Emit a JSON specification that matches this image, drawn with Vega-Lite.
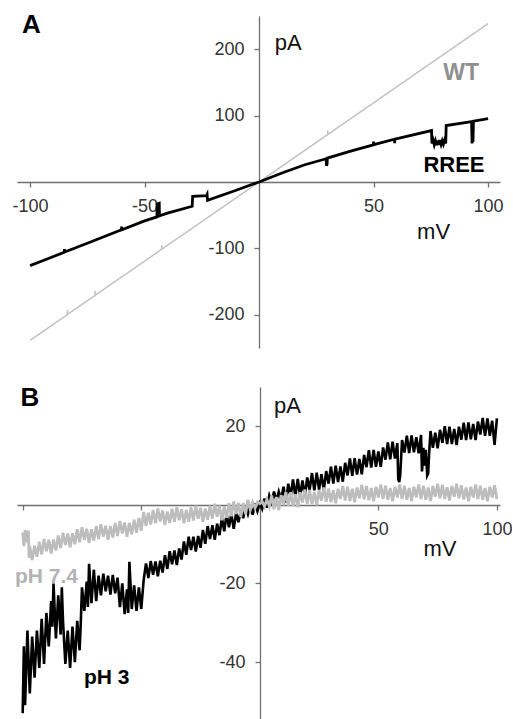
{
"$schema": "https://vega.github.io/schema/vega-lite/v6.json",
"padding": {"left": 12, "top": 12, "right": 0, "bottom": 0},
"background": "white",
"spacing": 36,
"config": {
  "view": {"stroke": null},
  "font": "Liberation Sans",
  "axis": {"grid": false, "title": null, "domainColor": "#707070", "domainWidth": 1.3, "tickColor": "#707070", "tickWidth": 1.3, "tickSize": 5, "labelFont": "Liberation Sans", "labelFontSize": 18, "labelColor": "#333333", "labelPadding": 10}
},
"datasets": {
  "one": [{"n": 1}],
  "wt": [{"mV":-100,"pA":-238.5},{"mV":-83.7,"pA":-199.6},{"mV":-83.6,"pA":-193},{"mV":-83.5,"pA":-199.1},{"mV":-71.7,"pA":-171},{"mV":-71.6,"pA":-164},{"mV":-71.5,"pA":-170.5},{"mV":-42.6,"pA":-101.6},{"mV":-42.5,"pA":-95},{"mV":-42.4,"pA":-101.1},{"mV":29.9,"pA":71.3},{"mV":30,"pA":78},{"mV":30.1,"pA":71.8},{"mV":100,"pA":238.5}],
  "rree": [{"mV":-100,"pA":-126},{"mV":-92,"pA":-115.2},{"mV":-85.1,"pA":-105.9},{"mV":-85,"pA":-101},{"mV":-84.9,"pA":-105.6},{"mV":-75,"pA":-92.3},{"mV":-60.1,"pA":-72.1},{"mV":-60,"pA":-67},{"mV":-59.9,"pA":-71.9},{"mV":-50,"pA":-58.5},{"mV":-44.6,"pA":-52.5},{"mV":-44.5,"pA":-33},{"mV":-43.6,"pA":-32},{"mV":-43.5,"pA":-51},{"mV":-40,"pA":-47},{"mV":-29.2,"pA":-36.5},{"mV":-29,"pA":-21.5},{"mV":-23,"pA":-20.5},{"mV":-22.7,"pA":-18.5},{"mV":-22.5,"pA":-27.5},{"mV":-10,"pA":-12.5},{"mV":0,"pA":0},{"mV":10,"pA":13.5},{"mV":20,"pA":26},{"mV":29.3,"pA":35},{"mV":29.4,"pA":24.5},{"mV":29.7,"pA":27},{"mV":29.8,"pA":36},{"mV":40,"pA":46.5},{"mV":49.9,"pA":56},{"mV":50,"pA":61},{"mV":50.1,"pA":56.2},{"mV":59.1,"pA":64.5},{"mV":59.2,"pA":58.5},{"mV":59.3,"pA":64.7},{"mV":75.3,"pA":77.5},{"mV":75.5,"pA":58},{"mV":76,"pA":63},{"mV":76.5,"pA":56},{"mV":77,"pA":62},{"mV":77.5,"pA":55.5},{"mV":78,"pA":62.5},{"mV":78.5,"pA":56},{"mV":79,"pA":63},{"mV":79.5,"pA":56.5},{"mV":80,"pA":62},{"mV":80.5,"pA":57},{"mV":81,"pA":63},{"mV":81.5,"pA":58},{"mV":81.7,"pA":85},{"mV":90,"pA":89.5},{"mV":92.8,"pA":91},{"mV":93,"pA":58},{"mV":93.2,"pA":70},{"mV":93.4,"pA":60},{"mV":93.6,"pA":91.5},{"mV":100,"pA":95.5}],
  "ph3": [{"mV":-100,"pA":-53},{"mV":-99.5,"pA":-36},{"mV":-99,"pA":-51},{"mV":-98,"pA":-32},{"mV":-97,"pA":-48},{"mV":-96,"pA":-33.5},{"mV":-95,"pA":-44},{"mV":-94,"pA":-32},{"mV":-93,"pA":-41.5},{"mV":-92,"pA":-29},{"mV":-91,"pA":-40.5},{"mV":-90,"pA":-27.5},{"mV":-89,"pA":-36},{"mV":-88,"pA":-24.5},{"mV":-87.5,"pA":-31},{"mV":-87,"pA":-20},{"mV":-86,"pA":-34},{"mV":-85,"pA":-23},{"mV":-84,"pA":-33},{"mV":-83.5,"pA":-21},{"mV":-83,"pA":-29.5},{"mV":-82,"pA":-40.5},{"mV":-81,"pA":-32},{"mV":-80,"pA":-41.5},{"mV":-79,"pA":-31},{"mV":-78,"pA":-40},{"mV":-77,"pA":-29.5},{"mV":-76,"pA":-37},{"mV":-75.5,"pA":-30},{"mV":-75,"pA":-21},{"mV":-74,"pA":-27},{"mV":-73,"pA":-19.5},{"mV":-72.5,"pA":-26},{"mV":-72,"pA":-15},{"mV":-71,"pA":-25},{"mV":-70,"pA":-16.5},{"mV":-69,"pA":-24.5},{"mV":-68,"pA":-18},{"mV":-67,"pA":-23},{"mV":-66,"pA":-17.5},{"mV":-65,"pA":-22},{"mV":-64,"pA":-18},{"mV":-63,"pA":-22.8},{"mV":-62,"pA":-17.8},{"mV":-61,"pA":-22.5},{"mV":-60,"pA":-18.5},{"mV":-59,"pA":-26},{"mV":-58,"pA":-20},{"mV":-57,"pA":-27.8},{"mV":-56,"pA":-21.5},{"mV":-55.5,"pA":-27.5},{"mV":-55,"pA":-14.5},{"mV":-54,"pA":-26.5},{"mV":-53,"pA":-20.5},{"mV":-52,"pA":-27},{"mV":-51,"pA":-21},{"mV":-50,"pA":-26.5},{"mV":-49,"pA":-19.2},{"mV":-48,"pA":-14.9},{"mV":-47,"pA":-18.6},{"mV":-46,"pA":-14.3},{"mV":-45,"pA":-17.8},{"mV":-44,"pA":-14.4},{"mV":-43,"pA":-18.2},{"mV":-42,"pA":-14.2},{"mV":-41,"pA":-17.2},{"mV":-40,"pA":-12.8},{"mV":-39,"pA":-16.3},{"mV":-38,"pA":-11.8},{"mV":-37,"pA":-15.1},{"mV":-36,"pA":-11.6},{"mV":-35,"pA":-15.3},{"mV":-34,"pA":-11.1},{"mV":-33,"pA":-13.9},{"mV":-32,"pA":-9.3},{"mV":-31,"pA":-12.7},{"mV":-30,"pA":-8.1},{"mV":-29,"pA":-11.5},{"mV":-28,"pA":-8.1},{"mV":-27,"pA":-11.9},{"mV":-26,"pA":-7.9},{"mV":-25,"pA":-10.9},{"mV":-24,"pA":-6.4},{"mV":-23,"pA":-9.9},{"mV":-22,"pA":-5.4},{"mV":-21,"pA":-8.7},{"mV":-20,"pA":-5.2},{"mV":-19,"pA":-8.9},{"mV":-18,"pA":-4.8},{"mV":-17,"pA":-7.7},{"mV":-16,"pA":-3.2},{"mV":-15,"pA":-6.7},{"mV":-14,"pA":-2.3},{"mV":-13,"pA":-5.7},{"mV":-12,"pA":-2.3},{"mV":-11,"pA":-6.1},{"mV":-10,"pA":-2.1},{"mV":-9,"pA":-4.4},{"mV":-8,"pA":-1.3},{"mV":-7,"pA":-3.4},{"mV":-6,"pA":-0.3},{"mV":-5,"pA":-2.3},{"mV":-4,"pA":0},{"mV":-3,"pA":-2.5},{"mV":-2,"pA":0.4},{"mV":-1,"pA":-1.6},{"mV":0,"pA":0.4},{"mV":1,"pA":-1},{"mV":2,"pA":1.6},{"mV":3,"pA":-0.7},{"mV":4,"pA":2.4},{"mV":5,"pA":0.7},{"mV":6,"pA":3.4},{"mV":7,"pA":1},{"mV":8,"pA":3.4},{"mV":9,"pA":1.4},{"mV":10,"pA":4.6},{"mV":11,"pA":0.6},{"mV":12,"pA":5.4},{"mV":13,"pA":2.2},{"mV":14,"pA":6.5},{"mV":15,"pA":2.1},{"mV":16,"pA":6.6},{"mV":17,"pA":2.3},{"mV":18,"pA":6.2},{"mV":19,"pA":2.2},{"mV":20,"pA":7},{"mV":21,"pA":3.8},{"mV":22,"pA":8.1},{"mV":23,"pA":3.7},{"mV":24,"pA":8.2},{"mV":25,"pA":3.9},{"mV":26,"pA":7.8},{"mV":27,"pA":3.8},{"mV":28,"pA":8.6},{"mV":29,"pA":5.4},{"mV":30,"pA":9.7},{"mV":31,"pA":5.4},{"mV":32,"pA":10},{"mV":33,"pA":5.8},{"mV":34,"pA":9.8},{"mV":35,"pA":5.9},{"mV":36,"pA":10.7},{"mV":37,"pA":7.5},{"mV":38,"pA":11.8},{"mV":39,"pA":7.4},{"mV":40,"pA":11.9},{"mV":41,"pA":7.7},{"mV":42,"pA":11.7},{"mV":43,"pA":7.8},{"mV":44,"pA":12.7},{"mV":45,"pA":9.6},{"mV":46,"pA":13.9},{"mV":47,"pA":9.5},{"mV":48,"pA":14},{"mV":49,"pA":9.7},{"mV":50,"pA":13.6},{"mV":51,"pA":9.7},{"mV":52,"pA":14.6},{"mV":53,"pA":11.5},{"mV":54,"pA":15.9},{"mV":55,"pA":11.6},{"mV":56,"pA":16.1},{"mV":57,"pA":11.8},{"mV":58,"pA":15.7},{"mV":58.4,"pA":6.5},{"mV":58.8,"pA":5.8},{"mV":59.2,"pA":7.5},{"mV":59.6,"pA":12},{"mV":60,"pA":16.5},{"mV":61,"pA":13.3},{"mV":62,"pA":17.6},{"mV":63,"pA":13.2},{"mV":64,"pA":17.7},{"mV":65,"pA":13.4},{"mV":66,"pA":17.2},{"mV":67,"pA":13.1},{"mV":68,"pA":17.8},{"mV":68.4,"pA":8.5},{"mV":68.8,"pA":12},{"mV":69,"pA":14.5},{"mV":69.5,"pA":10},{"mV":70,"pA":14},{"mV":70.6,"pA":7.5},{"mV":71,"pA":8},{"mV":71.4,"pA":13},{"mV":72,"pA":18.8},{"mV":73,"pA":14.5},{"mV":74,"pA":18.4},{"mV":75,"pA":14.4},{"mV":76,"pA":19.1},{"mV":77,"pA":15.8},{"mV":78,"pA":20},{"mV":79,"pA":15.5},{"mV":80,"pA":19.9},{"mV":81,"pA":15.5},{"mV":82,"pA":19.3},{"mV":83,"pA":15.2},{"mV":84,"pA":19.9},{"mV":85,"pA":16.6},{"mV":86,"pA":20.9},{"mV":87,"pA":16.5},{"mV":88,"pA":21},{"mV":89,"pA":16.7},{"mV":90,"pA":20.6},{"mV":91,"pA":16.5},{"mV":92,"pA":21.2},{"mV":93,"pA":17.9},{"mV":94,"pA":22.1},{"mV":95,"pA":17.6},{"mV":96,"pA":22},{"mV":97,"pA":17.6},{"mV":98,"pA":21.4},{"mV":99,"pA":15.3},{"mV":100,"pA":22}],
  "ph74": [{"mV":-100,"pA":-7},{"mV":-99.5,"pA":-10.5},{"mV":-99,"pA":-6.4},{"mV":-98,"pA":-9.6},{"mV":-97.6,"pA":-6.5},{"mV":-97.3,"pA":-13.5},{"mV":-97,"pA":-10.5},{"mV":-96,"pA":-14},{"mV":-95,"pA":-10.4},{"mV":-94,"pA":-13.2},{"mV":-93,"pA":-9.4},{"mV":-92,"pA":-12.6},{"mV":-91,"pA":-8.7},{"mV":-90,"pA":-11.8},{"mV":-89,"pA":-8.9},{"mV":-88,"pA":-12.4},{"mV":-87,"pA":-8.8},{"mV":-86,"pA":-11.6},{"mV":-85,"pA":-7.8},{"mV":-84,"pA":-11},{"mV":-83,"pA":-7.1},{"mV":-82,"pA":-10.2},{"mV":-81,"pA":-7.3},{"mV":-80,"pA":-10.8},{"mV":-79,"pA":-7.2},{"mV":-78,"pA":-10},{"mV":-77,"pA":-6.2},{"mV":-76,"pA":-9.5},{"mV":-75,"pA":-5.7},{"mV":-74,"pA":-8.9},{"mV":-73,"pA":-6.1},{"mV":-72,"pA":-9.7},{"mV":-71,"pA":-6.2},{"mV":-70,"pA":-9.1},{"mV":-69,"pA":-5.4},{"mV":-68,"pA":-8.7},{"mV":-67,"pA":-4.9},{"mV":-66,"pA":-8.1},{"mV":-65,"pA":-5.3},{"mV":-64,"pA":-8.9},{"mV":-63,"pA":-5.4},{"mV":-62,"pA":-8.3},{"mV":-61,"pA":-4.6},{"mV":-60,"pA":-7.9},{"mV":-59,"pA":-4.1},{"mV":-58,"pA":-7.3},{"mV":-57,"pA":-4.5},{"mV":-56,"pA":-8.1},{"mV":-55,"pA":-4.6},{"mV":-54,"pA":-7.5},{"mV":-53,"pA":-3.8},{"mV":-52,"pA":-7.1},{"mV":-51,"pA":-3.3},{"mV":-50,"pA":-6.6},{"mV":-49,"pA":-1.8},{"mV":-48,"pA":-5.4},{"mV":-47,"pA":-2},{"mV":-46,"pA":-5},{"mV":-45,"pA":-1.3},{"mV":-44,"pA":-4.7},{"mV":-43,"pA":-0.9},{"mV":-42,"pA":-4.2},{"mV":-41,"pA":-1.4},{"mV":-40,"pA":-5.1},{"mV":-39,"pA":-1.7},{"mV":-38,"pA":-4.6},{"mV":-37,"pA":-1},{"mV":-36,"pA":-4.3},{"mV":-35,"pA":-0.6},{"mV":-34,"pA":-3.9},{"mV":-33,"pA":-1.1},{"mV":-32,"pA":-4.7},{"mV":-31,"pA":-1.3},{"mV":-30,"pA":-4.3},{"mV":-29,"pA":-0.6},{"mV":-28,"pA":-4},{"mV":-27,"pA":-0.2},{"mV":-26,"pA":-3.5},{"mV":-25,"pA":-0.7},{"mV":-24,"pA":-4.3},{"mV":-23,"pA":-0.9},{"mV":-22,"pA":-3.8},{"mV":-21,"pA":-0.2},{"mV":-20,"pA":-3.5},{"mV":-19,"pA":0.3},{"mV":-18,"pA":-3},{"mV":-17,"pA":-0.2},{"mV":-16,"pA":-3.9},{"mV":-15,"pA":-0.4},{"mV":-14,"pA":-3.3},{"mV":-13,"pA":0.4},{"mV":-12,"pA":-2.9},{"mV":-11,"pA":0.9},{"mV":-10,"pA":-2.3},{"mV":-9,"pA":0.5},{"mV":-8,"pA":-3.1},{"mV":-7,"pA":0.5},{"mV":-6,"pA":-2.4},{"mV":-5,"pA":1.3},{"mV":-4,"pA":-1.3},{"mV":-3,"pA":0.7},{"mV":-2,"pA":-0.8},{"mV":-1,"pA":0.7},{"mV":0,"pA":0.3},{"mV":1,"pA":0.9},{"mV":2,"pA":-0.4},{"mV":3,"pA":1.4},{"mV":4,"pA":-0.4},{"mV":5,"pA":2.4},{"mV":6,"pA":-1.1},{"mV":7,"pA":2},{"mV":8,"pA":-1.3},{"mV":9,"pA":2.5},{"mV":10,"pA":-0.1},{"mV":11,"pA":3.3},{"mV":12,"pA":-0.3},{"mV":13,"pA":3.2},{"mV":14,"pA":-0.3},{"mV":15,"pA":2.7},{"mV":16,"pA":-0.6},{"mV":17,"pA":3.2},{"mV":18,"pA":0.6},{"mV":19,"pA":3.9},{"mV":20,"pA":0.3},{"mV":21,"pA":3.8},{"mV":22,"pA":0.2},{"mV":23,"pA":3.3},{"mV":24,"pA":-0.1},{"mV":25,"pA":3.7},{"mV":26,"pA":1.1},{"mV":27,"pA":4.4},{"mV":28,"pA":0.8},{"mV":29,"pA":4.2},{"mV":30,"pA":0.7},{"mV":31,"pA":3.7},{"mV":32,"pA":0.4},{"mV":33,"pA":4.1},{"mV":34,"pA":1.5},{"mV":35,"pA":4.8},{"mV":36,"pA":1.1},{"mV":37,"pA":4.6},{"mV":38,"pA":1},{"mV":39,"pA":4.1},{"mV":40,"pA":0.7},{"mV":41,"pA":4.4},{"mV":42,"pA":1.7},{"mV":43,"pA":5.1},{"mV":44,"pA":1.4},{"mV":45,"pA":4.8},{"mV":46,"pA":1.2},{"mV":47,"pA":4.3},{"mV":48,"pA":0.9},{"mV":49,"pA":4.6},{"mV":50,"pA":1.9},{"mV":51,"pA":5.2},{"mV":52,"pA":1.5},{"mV":53,"pA":4.9},{"mV":54,"pA":1.3},{"mV":55,"pA":4.3},{"mV":56,"pA":0.9},{"mV":57,"pA":4.6},{"mV":58,"pA":1.9},{"mV":59,"pA":5.2},{"mV":60,"pA":1.5},{"mV":61,"pA":4.9},{"mV":62,"pA":1.3},{"mV":63,"pA":4.3},{"mV":64,"pA":0.9},{"mV":65,"pA":4.6},{"mV":66,"pA":1.9},{"mV":67,"pA":5.2},{"mV":68,"pA":1.5},{"mV":69,"pA":4.9},{"mV":70,"pA":1.3},{"mV":71,"pA":4.4},{"mV":72,"pA":1},{"mV":73,"pA":4.8},{"mV":74,"pA":2.1},{"mV":75,"pA":5.4},{"mV":76,"pA":1.7},{"mV":77,"pA":5.1},{"mV":78,"pA":1.5},{"mV":79,"pA":4.5},{"mV":80,"pA":1.1},{"mV":81,"pA":4.8},{"mV":82,"pA":2.1},{"mV":83,"pA":5.4},{"mV":84,"pA":1.7},{"mV":85,"pA":5},{"mV":86,"pA":1.4},{"mV":87,"pA":4.4},{"mV":88,"pA":0.9},{"mV":89,"pA":4.6},{"mV":90,"pA":1.9},{"mV":91,"pA":5.2},{"mV":92,"pA":1.5},{"mV":93,"pA":4.9},{"mV":94,"pA":1.3},{"mV":95,"pA":4.3},{"mV":96,"pA":0.9},{"mV":97,"pA":4.6},{"mV":98,"pA":1.9},{"mV":99,"pA":5},{"mV":100,"pA":1.5}]
},
"vconcat": [
  {
    "width": 483, "height": 332,
    "layer": [
      {"data": {"name": "wt"}, "mark": {"type": "line", "color": "#c2c2c2", "strokeWidth": 1.5},
       "encoding": {
        "x": {"field": "mV", "type": "quantitative", "scale": {"domain": [-105.7, 105.2], "nice": false, "zero": false},
              "axis": {"orient": "bottom", "offset": -166, "values": [-100, -50, 50, 100], "labelExpr": "'' + datum.value"}},
        "y": {"field": "pA", "type": "quantitative", "scale": {"domain": [-250, 250], "nice": false, "zero": false},
              "axis": {"orient": "left", "offset": -242, "values": [-200, -100, 100, 200], "labelExpr": "'' + datum.value"}}}},
      {"data": {"name": "rree"}, "mark": {"type": "line", "color": "#000000", "strokeWidth": 2.8},
       "encoding": {"x": {"field": "mV", "type": "quantitative"}, "y": {"field": "pA", "type": "quantitative"}}},
      {"data": {"name": "one"}, "mark": {"type": "text", "text": "A", "fontSize": 26, "fontWeight": "bold", "fill": "#000000", "align": "center", "baseline": "middle"},
       "encoding": {"x": {"datum": -99.4, "type": "quantitative"}, "y": {"datum": 236, "type": "quantitative"}}},
      {"data": {"name": "one"}, "mark": {"type": "text", "text": "pA", "fontSize": 22, "fill": "#111111", "align": "left", "baseline": "middle"},
       "encoding": {"x": {"datum": 6.9, "type": "quantitative"}, "y": {"datum": 209, "type": "quantitative"}}},
      {"data": {"name": "one"}, "mark": {"type": "text", "text": "mV", "fontSize": 22, "fill": "#111111", "align": "center", "baseline": "middle"},
       "encoding": {"x": {"datum": 76.2, "type": "quantitative"}, "y": {"datum": -75, "type": "quantitative"}}},
      {"data": {"name": "one"}, "mark": {"type": "text", "text": "WT", "fontSize": 23, "fontWeight": "bold", "fill": "#8f8f8f", "align": "center", "baseline": "middle"},
       "encoding": {"x": {"datum": 88.2, "type": "quantitative"}, "y": {"datum": 163.5, "type": "quantitative"}}},
      {"data": {"name": "one"}, "mark": {"type": "text", "text": "RREE", "fontSize": 22, "fontWeight": "bold", "fill": "#000000", "align": "center", "baseline": "middle"},
       "encoding": {"x": {"datum": 85.1, "type": "quantitative"}, "y": {"datum": 26, "type": "quantitative"}}}
    ]
  },
  {
    "width": 483, "height": 334,
    "layer": [
      {"data": {"name": "ph3"}, "mark": {"type": "line", "color": "#000000", "strokeWidth": 2.6},
       "encoding": {
        "x": {"field": "mV", "type": "quantitative", "scale": {"domain": [-102.4, 101.3], "nice": false, "zero": false},
              "axis": {"orient": "bottom", "offset": -216, "values": [-100, -50, 50, 100], "labelExpr": "datum.value > 0 ? '' + datum.value : ''"}},
        "y": {"field": "pA", "type": "quantitative", "scale": {"domain": [-55, 30], "nice": false, "zero": false},
              "axis": {"orient": "left", "offset": -243, "values": [-40, -20, 20], "labelExpr": "'' + datum.value"}}}},
      {"data": {"name": "ph74"}, "mark": {"type": "line", "color": "#bdbdbd", "strokeWidth": 2.8},
       "encoding": {"x": {"field": "mV", "type": "quantitative"}, "y": {"field": "pA", "type": "quantitative"}}},
      {"data": {"name": "one"}, "mark": {"type": "text", "text": "B", "fontSize": 26, "fontWeight": "bold", "fill": "#000000", "align": "center", "baseline": "middle"},
       "encoding": {"x": {"datum": -97, "type": "quantitative"}, "y": {"datum": 27.3, "type": "quantitative"}}},
      {"data": {"name": "one"}, "mark": {"type": "text", "text": "pA", "fontSize": 22, "fill": "#111111", "align": "left", "baseline": "middle"},
       "encoding": {"x": {"datum": 6, "type": "quantitative"}, "y": {"datum": 25.2, "type": "quantitative"}}},
      {"data": {"name": "one"}, "mark": {"type": "text", "text": "mV", "fontSize": 22, "fill": "#111111", "align": "center", "baseline": "middle"},
       "encoding": {"x": {"datum": 76, "type": "quantitative"}, "y": {"datum": -11.2, "type": "quantitative"}}},
      {"data": {"name": "one"}, "mark": {"type": "text", "text": "pH 7.4", "fontSize": 21, "fontWeight": "bold", "fill": "#b3b3b3", "align": "center", "baseline": "middle"},
       "encoding": {"x": {"datum": -90, "type": "quantitative"}, "y": {"datum": -18.3, "type": "quantitative"}}},
      {"data": {"name": "one"}, "mark": {"type": "text", "text": "pH 3", "fontSize": 21, "fontWeight": "bold", "fill": "#000000", "align": "center", "baseline": "middle"},
       "encoding": {"x": {"datum": -64.6, "type": "quantitative"}, "y": {"datum": -44, "type": "quantitative"}}}
    ]
  }
]
}
